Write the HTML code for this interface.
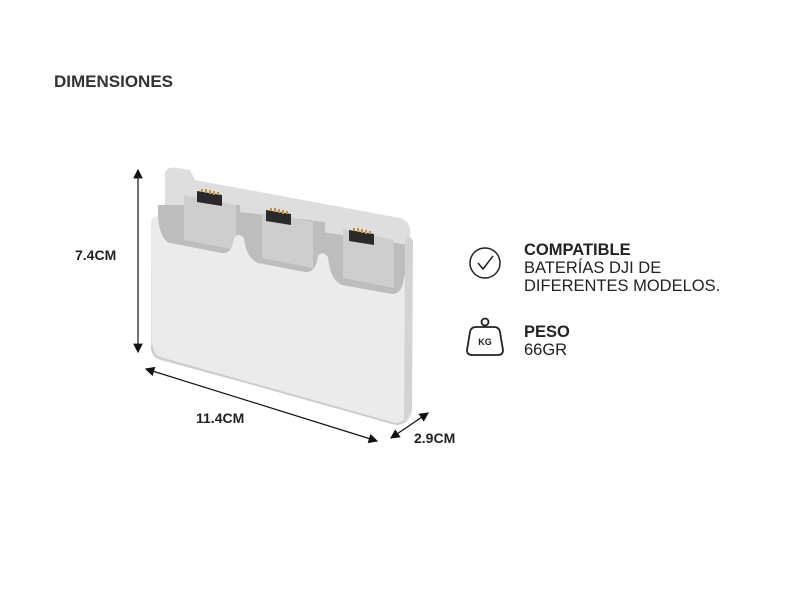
<!DOCTYPE html>
<html><head><style>
body{margin:0;width:800px;height:600px;background:#fff;font-family:"Liberation Sans",sans-serif;color:#222;position:relative;overflow:hidden}
.t{position:absolute;font-size:16px;white-space:nowrap}
b{font-weight:bold}
</style></head><body>
<div class="t" style="left:54px;top:72px;font-weight:bold;font-size:17px;color:#333">DIMENSIONES</div>
<div class="t" style="left:75px;top:247px;font-weight:bold;font-size:14px">7.4CM</div>
<div class="t" style="left:196px;top:410px;font-weight:bold;font-size:14px">11.4CM</div>
<div class="t" style="left:414px;top:430px;font-weight:bold;font-size:14px">2.9CM</div>
<div class="t" style="left:524px;top:241px;line-height:18px;font-size:16.5px"><b>COMPATIBLE</b><br>BATERÍAS DJI DE<br>DIFERENTES MODELOS.</div>
<div class="t" style="left:524px;top:323px;line-height:18px;font-size:16.5px"><b>PESO</b><br>66GR</div>
<svg width="800" height="600" style="position:absolute;left:0;top:0">
<defs><marker id="a" markerWidth="8" markerHeight="8" refX="7" refY="4" orient="auto-start-reverse"><path d="M0,0 L8,4 L0,8 z" fill="#111"/></marker></defs>
<line x1="138" y1="170" x2="138" y2="352" stroke="#111" stroke-width="1.2" marker-start="url(#a)" marker-end="url(#a)"/>
<line x1="146" y1="369" x2="377" y2="441" stroke="#111" stroke-width="1.2" marker-start="url(#a)" marker-end="url(#a)"/>
<line x1="391" y1="438" x2="428" y2="413" stroke="#111" stroke-width="1.2" marker-start="url(#a)" marker-end="url(#a)"/>
<path d="M165,172 Q168,166 178,168 L190,170 L195,180 L400,218 Q412,222 410,236 L412,240 L412,410 Q410,425 398,424 L160,360 Q150,357 151,345 L151,222 L165,210 Z" fill="#dedede"/>
<path d="M158,205 L240,205 L240,262 L158,250Z M240,212 L325,222 L325,282 L240,270Z M322,232 L408,245 L408,300 L322,290Z" fill="#bdbdbd"/>
<path d="M184,195 L236,205 L236,250 L184,240Z M262,213 L313,222 L313,268 L262,258Z M343,229 L394,240 L394,288 L343,278Z" fill="#cecece"/>
<path d="M197,191 L222,195 L222,206 L197,202Z M266,210 L291,214 L291,225 L266,221Z M349,230 L374,234 L374,245 L349,241Z" fill="#2a2a2a"/>
<path d="M202,189 L202,192 M206,189 L206,193 M210,190 L210,194 M214,191 L214,195 M218,192 L218,195" stroke="#c8903a" stroke-width="2"/>
<path d="M271,208 L271,211 M275,208 L275,212 M279,209 L279,213 M283,210 L283,214 M287,211 L287,214" stroke="#c8903a" stroke-width="2"/>
<path d="M354,228 L354,231 M358,228 L358,232 M362,229 L362,233 M366,230 L366,234 M370,231 L370,234" stroke="#c8903a" stroke-width="2"/>
<path d="M151,222 Q152,216 158,217 Q160,240 170,243 L222,253 Q232,254 234,238 Q238,232 244,238 Q246,258 258,263 L305,272 Q316,273 318,256 Q322,250 328,257 Q330,280 342,285 L392,294 Q402,294 404,278 L408,262 L405,420 Q400,426 392,423 L160,358 Q152,355 152,345 Z" fill="#ebebeb"/>
<path d="M405,236 L413,240 L412,410 L404,422 Z" fill="#d3d3d3"/>
<path d="M152,345 Q152,355 160,358 L392,423 Q400,426 405,420" fill="none" stroke="#cdcdcd" stroke-width="2"/>
<circle cx="485" cy="263" r="15" fill="none" stroke="#222" stroke-width="1.5"/>
<path d="M478,263 L483,269 L493,256" fill="none" stroke="#222" stroke-width="1.5"/>
<circle cx="485" cy="322" r="3.5" fill="none" stroke="#222" stroke-width="1.8"/>
<path d="M476,327 L494,327 Q499,327 500,332 L503,350 Q503,355 498,355 L472,355 Q467,355 467,350 L470,332 Q471,327 476,327Z" fill="none" stroke="#222" stroke-width="1.8"/>
<text x="485" y="345" font-size="9" font-weight="bold" text-anchor="middle" font-family="Liberation Sans" fill="#222">KG</text>
</svg>
</body></html>
